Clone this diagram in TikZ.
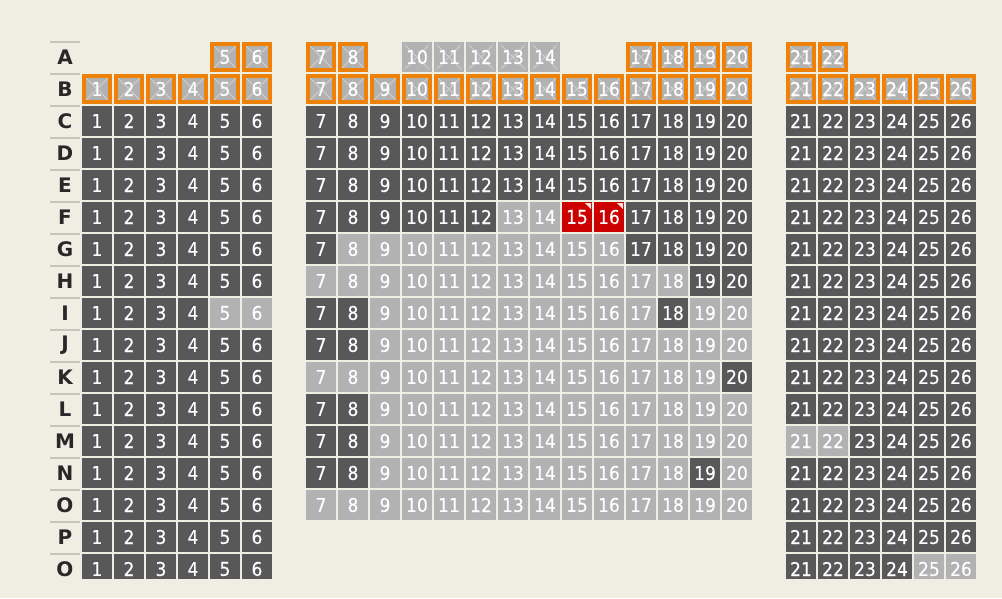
\documentclass[tikz,border=0pt]{standalone}
\usepackage{fontspec}
\setmainfont{DejaVu Sans}
\newfontfamily\seatfont[FakeStretch=0.9,FakeBold=0.3]{DejaVu Sans}
\newfontfamily\lblfont{DejaVu Sans}
\definecolor{bg}{RGB}{240,237,226}
\definecolor{dseat}{RGB}{88,88,88}
\definecolor{lseat}{RGB}{178,178,178}
\definecolor{rseat}{RGB}{204,0,0}
\definecolor{oseat}{RGB}{238,130,8}
\definecolor{xline}{RGB}{202,202,202}
\definecolor{lbl}{RGB}{40,40,40}
\definecolor{sepcol}{RGB}{200,198,188}
\tikzset{
  seatbase/.style={minimum size=30pt, inner sep=0pt, outer sep=0pt, text=white,
    font=\seatfont\fontsize{19}{19}\selectfont},
  seatD/.style={seatbase, fill=dseat},
  seatL/.style={seatbase, fill=lseat},
  seatR/.style={seatbase, fill=rseat, path picture={
      \fill[white!88!rseat] ([xshift=-7pt,yshift=-1pt]path picture bounding box.north east)
        -- ([xshift=-1pt,yshift=-1pt]path picture bounding box.north east)
        -- ([xshift=-1pt,yshift=-7pt]path picture bounding box.north east) -- cycle;}},
  seatO/.style={seatbase, fill=lseat, draw=oseat, line width=4pt, minimum size=26pt,
    path picture={
      \draw[xline, line width=1.2pt] (path picture bounding box.north west) -- (path picture bounding box.south east)
        (path picture bounding box.south west) -- (path picture bounding box.north east);}},
  seatX/.style={seatbase, fill=lseat,
    path picture={
      \draw[xline, line width=1.2pt] ([shift={(3pt,-3pt)}]path picture bounding box.north west) -- ([shift={(-3pt,3pt)}]path picture bounding box.south east)
        ([shift={(3pt,3pt)}]path picture bounding box.south west) -- ([shift={(-3pt,-3pt)}]path picture bounding box.north east);}},
  rowlbl/.style={text=lbl, inner sep=0pt, font=\lblfont\bfseries\fontsize{20}{20}\selectfont},
  sepline/.style={draw=sepcol, line width=1.5pt}
}
\newcommand\seatrow[3]{%
  \node[rowlbl] (lbl#1) at (65,{57.5+32*#1}) {#2};
  \draw[sepline] (50,{42+32*#1}) -- (80,{42+32*#1});
  \foreach \stype [count=\scol] in {#3} {%
    \if\stype N\else
      \pgfmathsetmacro\sx{\scol<7 ? 97+32*(\scol-1) : (\scol<21 ? 321+32*(\scol-7) : 801+32*(\scol-21))}%
      \node[seat\stype] (s#1-\scol) at (\sx,{57+32*#1}) {\scol};
    \fi
  }%
}
\begin{document}
\begin{tikzpicture}[x=1pt,y=-1pt]
\fill[bg] (0,0) rectangle (1002,598);
\useasboundingbox (0,0) rectangle (1002,598);
\begin{scope}
\clip (0,0) rectangle (1002,578);
\seatrow{0}{A}{N,N,N,N,O,O,O,O,N,X,X,X,X,X,N,N,O,O,O,O,O,O,N,N,N,N}
\seatrow{1}{B}{O,O,O,O,O,O,O,O,O,O,O,O,O,O,O,O,O,O,O,O,O,O,O,O,O,O}
\seatrow{2}{C}{D,D,D,D,D,D,D,D,D,D,D,D,D,D,D,D,D,D,D,D,D,D,D,D,D,D}
\seatrow{3}{D}{D,D,D,D,D,D,D,D,D,D,D,D,D,D,D,D,D,D,D,D,D,D,D,D,D,D}
\seatrow{4}{E}{D,D,D,D,D,D,D,D,D,D,D,D,D,D,D,D,D,D,D,D,D,D,D,D,D,D}
\seatrow{5}{F}{D,D,D,D,D,D,D,D,D,D,D,D,L,L,R,R,D,D,D,D,D,D,D,D,D,D}
\seatrow{6}{G}{D,D,D,D,D,D,D,L,L,L,L,L,L,L,L,L,D,D,D,D,D,D,D,D,D,D}
\seatrow{7}{H}{D,D,D,D,D,D,L,L,L,L,L,L,L,L,L,L,L,L,D,D,D,D,D,D,D,D}
\seatrow{8}{I}{D,D,D,D,L,L,D,D,L,L,L,L,L,L,L,L,L,D,L,L,D,D,D,D,D,D}
\seatrow{9}{J}{D,D,D,D,D,D,D,D,L,L,L,L,L,L,L,L,L,L,L,L,D,D,D,D,D,D}
\seatrow{10}{K}{D,D,D,D,D,D,L,L,L,L,L,L,L,L,L,L,L,L,L,D,D,D,D,D,D,D}
\seatrow{11}{L}{D,D,D,D,D,D,D,D,L,L,L,L,L,L,L,L,L,L,L,L,D,D,D,D,D,D}
\seatrow{12}{M}{D,D,D,D,D,D,D,D,L,L,L,L,L,L,L,L,L,L,L,L,L,L,D,D,D,D}
\seatrow{13}{N}{D,D,D,D,D,D,D,D,L,L,L,L,L,L,L,L,L,L,D,L,D,D,D,D,D,D}
\seatrow{14}{O}{D,D,D,D,D,D,L,L,L,L,L,L,L,L,L,L,L,L,L,L,D,D,D,D,D,D}
\seatrow{15}{P}{D,D,D,D,D,D,N,N,N,N,N,N,N,N,N,N,N,N,N,N,D,D,D,D,D,D}
\seatrow{16}{O}{D,D,D,D,D,D,N,N,N,N,N,N,N,N,N,N,N,N,N,N,D,D,D,D,L,L}
\end{scope}
\end{tikzpicture}
\end{document}
